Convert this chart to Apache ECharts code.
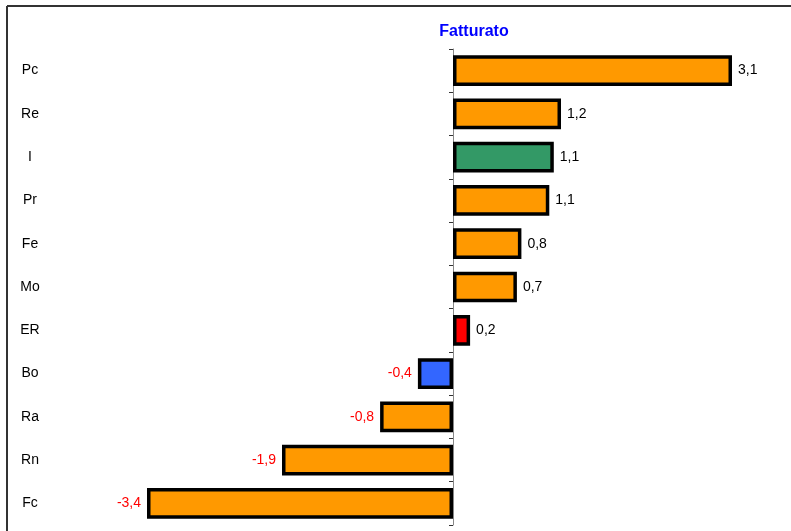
<!DOCTYPE html>
<html>
<head>
<meta http-equiv="Content-Type" content="text/html; charset=UTF-8">
<title>Fatturato</title>
<script type="text/javascript" src="https://cdn.jsdelivr.net/npm/echarts@6/dist/echarts.min.js"></script>
<style>
    html, body { margin: 0; padding: 0; background: #fff; }
</style>
</head>
<body>
    <div id="main" style="width: 791px; height: 531px;"></div>
    <script type="text/javascript">
        // categorie e valori
        var categorie = ['Pc', 'Re', 'I', 'Pr', 'Fe', 'Mo', 'ER', 'Bo', 'Ra', 'Rn', 'Fc'];
        var valori = [3.10, 1.20, 1.12, 1.07, 0.76, 0.71, 0.19, -0.39, -0.81, -1.90, -3.40];

        var coloriSpeciali = { 'I': '#339966', 'ER': '#FF0000', 'Bo': '#3366FF' };

        function virgola(v) {
            return v.toFixed(1).replace('.', ',');
        }

        var dati = [];
        for (var i = 0; i < valori.length; i++) {
            var neg = valori[i] < 0;
            dati.push({
                value: valori[i],
                itemStyle: { color: coloriSpeciali[categorie[i]] || '#FF9900' },
                label: {
                    position: neg ? 'left' : 'right',
                    color: neg ? '#FF0000' : '#000'
                }
            });
        }

        var myChart = echarts.init(document.getElementById('main'));
        myChart.setOption({
            animation: false,
            title: {
                text: 'Fatturato',
                left: 469,
                top: 19,
                textAlign: 'center',
                textStyle: { color: '#0000FF', fontSize: 16, fontWeight: 'bold', fontFamily: 'Liberation Sans' }
            },
            graphic: [
                { type: 'line', shape: { x1: 7, y1: 6, x2: 791, y2: 6 }, style: { stroke: '#333', lineWidth: 2 } },
                { type: 'line', shape: { x1: 7, y1: 6, x2: 7, y2: 531 }, style: { stroke: '#333', lineWidth: 2 } }
            ],
            grid: { left: 93, right: 23, top: 49, bottom: 6, containLabel: false, outerBoundsMode: 'none' },
            xAxis: {
                type: 'value',
                min: -4,
                max: 3.5,
                show: false
            },
            yAxis: [{
                // asse sullo zero: linea e tacche
                type: 'category',
                inverse: true,
                data: categorie,
                axisLine: { onZero: true, lineStyle: { color: '#888', width: 1 } },
                axisTick: { show: true, length: 4, lineStyle: { color: '#333' } },
                axisLabel: { show: false },
                splitLine: { show: false }
            }, {
                // solo etichette, a sinistra
                type: 'category',
                inverse: true,
                position: 'left',
                data: categorie,
                axisLine: { show: false, onZero: false },
                axisTick: { show: false },
                axisLabel: {
                    margin: 63,
                    align: 'center',
                    color: '#000',
                    fontSize: 14,
                    lineHeight: 18,
                    padding: [3, 0, 0, 0],
                    fontFamily: 'Liberation Sans'
                },
                splitLine: { show: false }
            }],
            series: [{
                type: 'bar',
                yAxisIndex: 0,
                barWidth: '71%',
                data: dati,
                itemStyle: { borderColor: '#000', borderWidth: 3.5 },
                label: {
                    show: true,
                    distance: 6,
                    fontSize: 14,
                    fontFamily: 'Liberation Sans',
                    formatter: function (p) { return virgola(p.value); }
                }
            }]
        });
    </script>
</body>
</html>
